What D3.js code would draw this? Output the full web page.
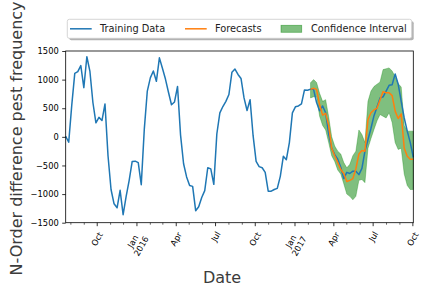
<!DOCTYPE html>
<html>
<head>
<meta charset="utf-8">
<script src="https://cdn.jsdelivr.net/npm/d3@7"></script>
<style>
  body { margin: 0; background: #fff; }
  svg { font-family: "DejaVu Sans", sans-serif; }
</style>
</head>
<body>
<svg id="canvas" width="432" height="288"></svg>
<script>
// weekly series, first week starts here
const startDate = new Date(2015, 6, 20);

// actual values (training + test), one per week
const actual = [
  10, -95, 550, 1110, 1140, 1245, 860, 1400, 1150, 600,
  245, 340, 285, 575, -330, -920, -1170, -1240, -935, -1360,
  -1040, -760, -430, -425, -450, -835, 130, 800, 1030, 1150,
  970, 1380, 1200, 1010, 780, 560, 610, 880, 30, -470,
  -700, -850, -865, -1290, -1220, -1060, -940, -540, -560, -830,
  50, 420, 530, 620, 740, 1130, 1185, 1090, 1020, 680,
  460, 650, 20, -430, -520, -540, -620, -950, -950, -920,
  -900, -690, -340, -400, -100, 420, 525, 540, 575, 820,
  815, 830, 830, 600, 455, 540, 420, 50, -200, -310,
  -390, -530, -730, -620, -640, -600, -600, -660, -550, -250,
  -50, 150, 370, 520, 680, 700, 800, 900, 910, 1100,
  920, 620, 330, 100, -100, -360
];

// forecasts start at this week index
const forecastStart = 81;
const forecasts = [
  830, 850, 830, 560, 380, 410, 200, -200, -330, -450,
  -570, -640, -780, -760, -730, -560, -300, -240, -250, 300,
  420, 470, 500, 650, 790, 770, 770, 720, 450, 320,
  400, -200, -340, -390, -390
];
const upperCI = [
  945, 1000, 950, 760, 620, 650, 350, 0, -160, -250,
  -300, -450, -540, -480, -330, -250, 120, 40, -100, 620,
  800, 880, 920, 960, 1175, 1190, 1205, 1150, 1050, 930,
  870, 200, 100, 100, 100
];
const lowerCI = [
  680, 700, 700, 360, 200, 120, -100, -330, -430, -580,
  -650, -820, -1000, -1040, -1100, -1040, -760, -745, -800, -200,
  -30, 130, 280, 390, 360, 330, 420, 250, -100, -220,
  -200, -650, -850, -920, -920
];

const yTicks = [-1500, -1000, -500, 0, 500, 1000, 1500];
const legendLabels = ["Training Data", "Forecasts", "Confidence Interval"];

const svg = d3.select('#canvas');
const plotLeft = 65.7, plotRight = 413.3, plotTop = 51, plotBottom = 222.7;

let weekDate = i => d3.timeDay.offset(startDate, i * 7);
let dates = actual.map((v, i) => weekDate(i));

let x = d3.scaleTime()
  .domain([dates[0], dates[dates.length - 1]])
  .range([plotLeft, plotRight]);
let y = d3.scaleLinear().domain([-1500, 1500]).range([plotBottom, plotTop]);

let fc = forecasts.map((v, i) => ({
  date: weekDate(forecastStart + i),
  value: v, hi: upperCI[i], lo: lowerCI[i]
}));

// confidence band first so lines sit on top
svg.append('path')
  .datum(fc)
  .attr('fill', 'green')
  .attr('fill-opacity', 0.5)
  .attr('stroke', 'green')
  .attr('stroke-opacity', 0.3)
  .attr('stroke-width', 1)
  .attr('d', d3.area()
    .x(d => x(d.date))
    .y0(d => y(d.lo))
    .y1(d => y(d.hi)));

svg.append('path')
  .datum(actual)
  .attr('fill', 'none')
  .attr('stroke', '#1f77b4')
  .attr('stroke-width', 1.5)
  .attr('stroke-linejoin', 'round')
  .attr('d', d3.line()
    .x((d, i) => x(dates[i]))
    .y(d => y(d)));

svg.append('path')
  .datum(fc)
  .attr('fill', 'none')
  .attr('stroke', '#ff7f0e')
  .attr('stroke-width', 1.5)
  .attr('stroke-linejoin', 'round')
  .attr('d', d3.line()
    .x(d => x(d.date))
    .y(d => y(d.value)));

// axes box
svg.append('rect')
  .attr('x', plotLeft).attr('y', plotTop)
  .attr('width', plotRight - plotLeft).attr('height', plotBottom - plotTop)
  .attr('fill', 'none').attr('stroke', 'black').attr('stroke-width', 0.8);

// y axis
let yAxis = svg.append('g')
  .attr('transform', `translate(${plotLeft},0)`)
  .call(d3.axisLeft(y).tickValues(yTicks).tickSize(3.5).tickPadding(3.5)
    .tickFormat(d => d3.format('d')(d).replace('-', '\u2212')));
yAxis.select('.domain').remove();
yAxis.selectAll('line').attr('stroke', 'black').attr('stroke-width', 0.8);
yAxis.selectAll('text').attr('font-size', 8.3).attr('fill', 'black')
  .attr('font-family', 'DejaVu Sans');

// x axis: monthly minor ticks, quarterly labelled ticks
let months = d3.timeMonth.range(d3.timeMonth.ceil(x.domain()[0]), d3.timeDay.offset(x.domain()[1], 1));
let quarters = months.filter(d => d.getMonth() % 3 == 0);

svg.append('g').selectAll('line')
  .data(months.filter(d => d.getMonth() % 3 != 0))
  .join('line')
  .attr('x1', d => x(d)).attr('x2', d => x(d))
  .attr('y1', plotBottom).attr('y2', plotBottom + 2)
  .attr('stroke', 'black').attr('stroke-width', 0.6);

svg.append('g').selectAll('line')
  .data(quarters)
  .join('line')
  .attr('x1', d => x(d)).attr('x2', d => x(d))
  .attr('y1', plotBottom).attr('y2', plotBottom + 3.5)
  .attr('stroke', 'black').attr('stroke-width', 0.8);

// rotated tick labels, centred under the tick like matplotlib does
const rot = 60 * Math.PI / 180;
quarters.forEach(d => {
  let g = svg.append('g');
  let t = g.append('text')
    .attr('font-size', 8.3)
    .attr('fill', 'black');
  let lines = [d3.timeFormat('%b')(d)];
  if (d.getMonth() == 0) lines.push(d3.timeFormat('%Y')(d));
  lines.forEach((s, k) => {
    t.append('tspan').attr('x', 0).attr('dy', k == 0 ? 0 : '1.15em')
      .attr('text-anchor', 'middle').text(s);
  });
  let bb = t.node().getBBox();
  let cx = bb.x + bb.width / 2, cy = bb.y + bb.height / 2;
  let h = bb.width * Math.sin(rot) + bb.height * Math.cos(rot);
  g.attr('transform',
    `translate(${x(d)},${plotBottom + 7 + h / 2}) rotate(-60) translate(${-cx},${-cy})`);
});

// axis labels
svg.append('text')
  .attr('x', 222).attr('y', 282.5)
  .attr('text-anchor', 'middle')
  .attr('font-size', 16).attr('fill', '#3c3c3c')
  .text('Date');

svg.append('text')
  .attr('transform', 'translate(21.5,138.5) rotate(-90)')
  .attr('text-anchor', 'middle')
  .attr('font-size', 16).attr('fill', '#3c3c3c')
  .text('N-Order difference pest frequency');

// legend with shadow
const lg = { x: 67.3, y: 19.3, w: 344.4, h: 19 };
svg.append('rect')
  .attr('x', lg.x + 2).attr('y', lg.y + 2)
  .attr('width', lg.w).attr('height', lg.h)
  .attr('rx', 2).attr('fill', '#7f7f7f').attr('opacity', 0.6);
svg.append('rect')
  .attr('x', lg.x).attr('y', lg.y)
  .attr('width', lg.w).attr('height', lg.h)
  .attr('rx', 2).attr('fill', 'white').attr('stroke', '#cccccc').attr('stroke-width', 0.8);

const entryX = [70, 185, 281];
const midY = lg.y + lg.h / 2;
svg.append('line')
  .attr('x1', entryX[0]).attr('x2', entryX[0] + 21.7)
  .attr('y1', midY).attr('y2', midY)
  .attr('stroke', '#1f77b4').attr('stroke-width', 1.5);
svg.append('line')
  .attr('x1', entryX[1]).attr('x2', entryX[1] + 21.7)
  .attr('y1', midY).attr('y2', midY)
  .attr('stroke', '#ff7f0e').attr('stroke-width', 1.5);
svg.append('rect')
  .attr('x', entryX[2]).attr('y', midY - 3.5)
  .attr('width', 20.7).attr('height', 7)
  .attr('fill', 'green').attr('fill-opacity', 0.5)
  .attr('stroke', 'green').attr('stroke-opacity', 0.5).attr('stroke-width', 0.8);

svg.append('g').selectAll('text')
  .data(legendLabels)
  .join('text')
  .attr('x', (d, i) => entryX[i] + 30)
  .attr('y', midY + 3.5)
  .attr('font-size', 9.8)
  .attr('fill', '#222')
  .text(d => d);
</script>
</body>
</html>
